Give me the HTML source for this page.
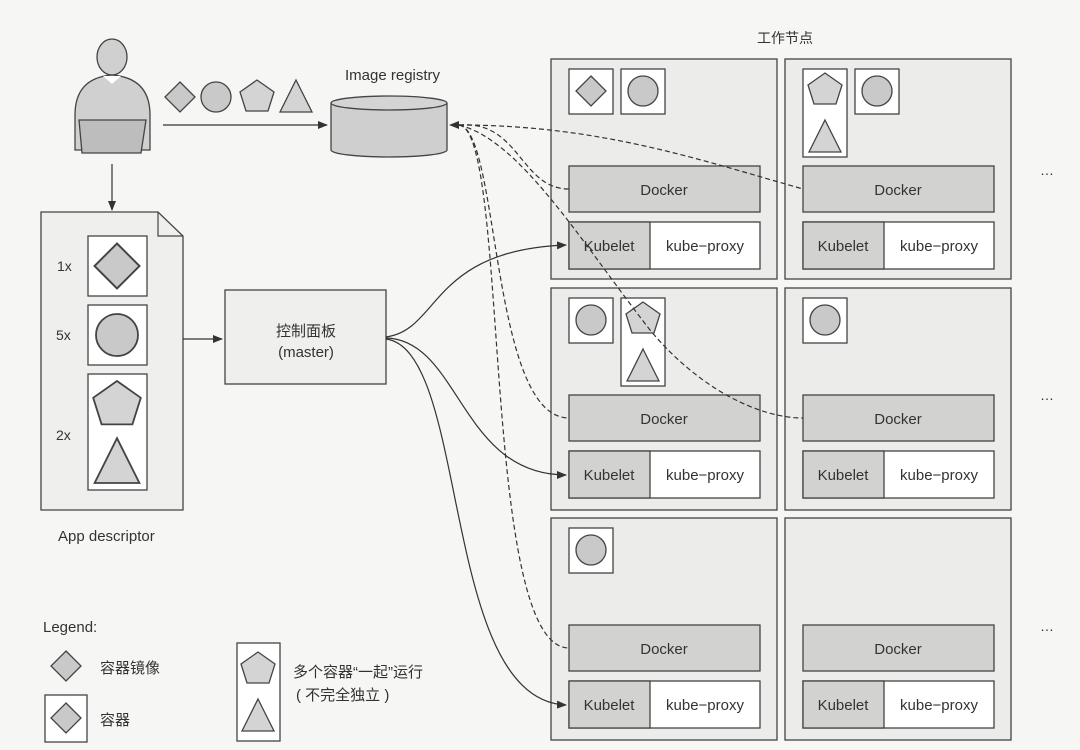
<!DOCTYPE html>
<html><head><meta charset="utf-8"><style>
html,body{margin:0;padding:0;background:#f6f6f4;}
svg{display:block;}
text{font-family:"Liberation Sans","Noto Sans CJK SC",sans-serif;fill:#333;}
</style></head><body>
<svg width="1080" height="750" viewBox="0 0 1080 750" xmlns="http://www.w3.org/2000/svg">
<defs>
<marker id="ah" markerWidth="10" markerHeight="8" refX="9" refY="4" orient="auto" markerUnits="userSpaceOnUse">
<path d="M0,0 L10,4 L0,8 Z" fill="#333"/></marker>
<marker id="ahs" markerWidth="10" markerHeight="8" refX="1" refY="4" orient="auto" markerUnits="userSpaceOnUse">
<path d="M10,0 L0,4 L10,8 Z" fill="#333"/></marker>
<g id="dia"><polygon points="0,-15 15,0 0,15 -15,0" fill="#c9c9c9" stroke="#444" stroke-width="1.3"/></g>
<g id="cir"><circle r="15" fill="#c9c9c9" stroke="#444" stroke-width="1.3"/></g>
<g id="pen"><polygon points="0,-15 17,-3 11,16 -11,16 -17,-3" fill="#d4d4d4" stroke="#444" stroke-width="1.3"/></g>
<g id="tri"><polygon points="0,-17 16,15 -16,15" fill="#d4d4d4" stroke="#444" stroke-width="1.3"/></g>
</defs>

<!-- person -->
<g stroke="#444" stroke-width="1.3">
<ellipse cx="112" cy="57" rx="15" ry="18" fill="#d0d0d0"/>
<path d="M75,150 L75,115 Q75,78 112,75 Q150,78 150,115 L150,150 Z" fill="#d0d0d0"/>
<path d="M103,76 L112,84 L121,76" fill="#fff" stroke="none"/>
<path d="M79,120 L146,120 L141,153 L82,153 Z" fill="#bdbdbd"/>
</g>
<!-- shapes row -->
<use href="#dia" x="180" y="97"/>
<use href="#cir" x="216" y="97"/>
<use href="#pen" x="257" y="95"/>
<use href="#tri" x="296" y="97"/>
<line x1="163" y1="125" x2="327" y2="125" stroke="#333" stroke-width="1.2" marker-end="url(#ah)"/>
<!-- registry -->
<text x="345" y="80" font-size="15">Image registry</text>
<path d="M331,103 L331,150 A58,7 0 0 0 447,150 L447,103" fill="#cfcfcf" stroke="#444" stroke-width="1.3"/>
<ellipse cx="389" cy="103" rx="58" ry="7" fill="#d4d4d4" stroke="#444" stroke-width="1.3"/>

<line x1="112" y1="164" x2="112" y2="210" stroke="#333" stroke-width="1.2" marker-end="url(#ah)"/>
<!-- document -->
<path d="M41,212 L158,212 L183,236 L183,510 L41,510 Z" fill="#efefed" stroke="#444" stroke-width="1.3"/>
<path d="M158,212 L158,236 L183,236" fill="none" stroke="#444" stroke-width="1.2"/>
<rect x="88" y="236" width="59" height="60" fill="#fff" stroke="#444" stroke-width="1.3"/>
<use href="#dia" x="117" y="266" transform="translate(117,266) scale(1.5) translate(-117,-266)"/>
<rect x="88" y="305" width="59" height="60" fill="#fff" stroke="#444" stroke-width="1.3"/>
<g transform="translate(117,335) scale(1.4)"><use href="#cir"/></g>
<rect x="88" y="374" width="59" height="116" fill="#fff" stroke="#444" stroke-width="1.3"/>
<g transform="translate(117,402) scale(1.4)"><use href="#pen"/></g>
<g transform="translate(117,462) scale(1.4)"><use href="#tri"/></g>
<text x="57" y="271" font-size="14">1x</text>
<text x="56" y="340" font-size="14">5x</text>
<text x="56" y="440" font-size="14">2x</text>
<text x="58" y="541" font-size="15">App descriptor</text>

<line x1="183" y1="339" x2="222" y2="339" stroke="#333" stroke-width="1.2" marker-end="url(#ah)"/>
<rect x="225" y="290" width="161" height="94" fill="#efefed" stroke="#444" stroke-width="1.3"/>
<text x="306" y="336" font-size="15" text-anchor="middle">控制面板</text>
<text x="306" y="357" font-size="15" text-anchor="middle">(master)</text>

<text x="785" y="43" font-size="14" text-anchor="middle">工作节点</text>

<!-- nodes -->
<g stroke="#444" stroke-width="1.3">
<rect x="551" y="59" width="226" height="220" fill="#ececea"/>
<rect x="785" y="59" width="226" height="220" fill="#ececea"/>
<rect x="551" y="288" width="226" height="222" fill="#ececea"/>
<rect x="785" y="288" width="226" height="222" fill="#ececea"/>
<rect x="551" y="518" width="226" height="222" fill="#ececea"/>
<rect x="785" y="518" width="226" height="222" fill="#ececea"/>
</g>
<g id="stack1" stroke="#444" stroke-width="1.3">
<rect x="569" y="166" width="191" height="46" fill="#d2d2d0"/>
<rect x="569" y="222" width="191" height="47" fill="#fff"/>
<rect x="569" y="222" width="81" height="47" fill="#d2d2d0"/>
</g>
<use href="#stack1" x="234"/>
<use href="#stack1" y="229"/>
<use href="#stack1" x="234" y="229"/>
<use href="#stack1" y="459"/>
<use href="#stack1" x="234" y="459"/>
<g font-size="15" text-anchor="middle">
<text x="664" y="195">Docker</text><text x="898" y="195">Docker</text>
<text x="664" y="424">Docker</text><text x="898" y="424">Docker</text>
<text x="664" y="654">Docker</text><text x="898" y="654">Docker</text>
<text x="609" y="251">Kubelet</text><text x="705" y="251">kube−proxy</text>
<text x="843" y="251">Kubelet</text><text x="939" y="251">kube−proxy</text>
<text x="609" y="480">Kubelet</text><text x="705" y="480">kube−proxy</text>
<text x="843" y="480">Kubelet</text><text x="939" y="480">kube−proxy</text>
<text x="609" y="710">Kubelet</text><text x="705" y="710">kube−proxy</text>
<text x="843" y="710">Kubelet</text><text x="939" y="710">kube−proxy</text>
</g>
<g font-size="14"><text x="1040" y="175">…</text><text x="1040" y="400">…</text><text x="1040" y="631">…</text></g>

<!-- pods -->
<g stroke="#444" stroke-width="1.3" fill="#fff">
<rect x="569" y="69" width="44" height="45"/><rect x="621" y="69" width="44" height="45"/>
<rect x="803" y="69" width="44" height="88"/><rect x="855" y="69" width="44" height="45"/>
<rect x="569" y="298" width="44" height="45"/><rect x="621" y="298" width="44" height="88"/>
<rect x="803" y="298" width="44" height="45"/>
<rect x="569" y="528" width="44" height="45"/>
</g>
<use href="#dia" x="591" y="91"/><use href="#cir" x="643" y="91"/>
<use href="#pen" x="825" y="88"/><use href="#tri" x="825" y="137"/><use href="#cir" x="877" y="91"/>
<use href="#cir" x="591" y="320"/><use href="#pen" x="643" y="317"/><use href="#tri" x="643" y="366"/>
<use href="#cir" x="825" y="320"/>
<use href="#cir" x="591" y="550"/>

<!-- solid curves -->
<g fill="none" stroke="#333" stroke-width="1.2" marker-end="url(#ah)">
<path d="M386,337 C440,330 430,250 566,245"/>
<path d="M386,338 C460,340 460,475 566,475"/>
<path d="M386,339 C470,350 440,700 566,705"/>
</g>
<!-- dashed curves -->
<g fill="none" stroke="#333" stroke-width="1.2" stroke-dasharray="5,3">
<path d="M459,125 C520,120 520,189 569,189"/>
<path d="M459,125 C600,125 700,160 803,189"/>
<path d="M459,125 C500,130 490,418 569,418"/>
<path d="M459,125 C520,140 580,240 650,330 C700,390 760,418 803,418"/>
<path d="M459,125 C510,130 480,648 569,648"/>
</g>
<path d="M449,125 L459,121 L459,129 Z" fill="#333"/>

<!-- legend -->
<text x="43" y="632" font-size="15">Legend:</text>
<use href="#dia" x="66" y="666"/>
<text x="100" y="673" font-size="15">容器镜像</text>
<rect x="45" y="695" width="42" height="47" fill="#fff" stroke="#444" stroke-width="1.3"/>
<use href="#dia" x="66" y="718"/>
<text x="100" y="725" font-size="15">容器</text>
<rect x="237" y="643" width="43" height="98" fill="#fff" stroke="#444" stroke-width="1.3"/>
<use href="#pen" x="258" y="667"/><use href="#tri" x="258" y="716"/>
<text x="293" y="677" font-size="15">多个容器“一起”运行</text>
<text x="296" y="700" font-size="15">( 不完全独立 )</text>
</svg>
</body></html>
